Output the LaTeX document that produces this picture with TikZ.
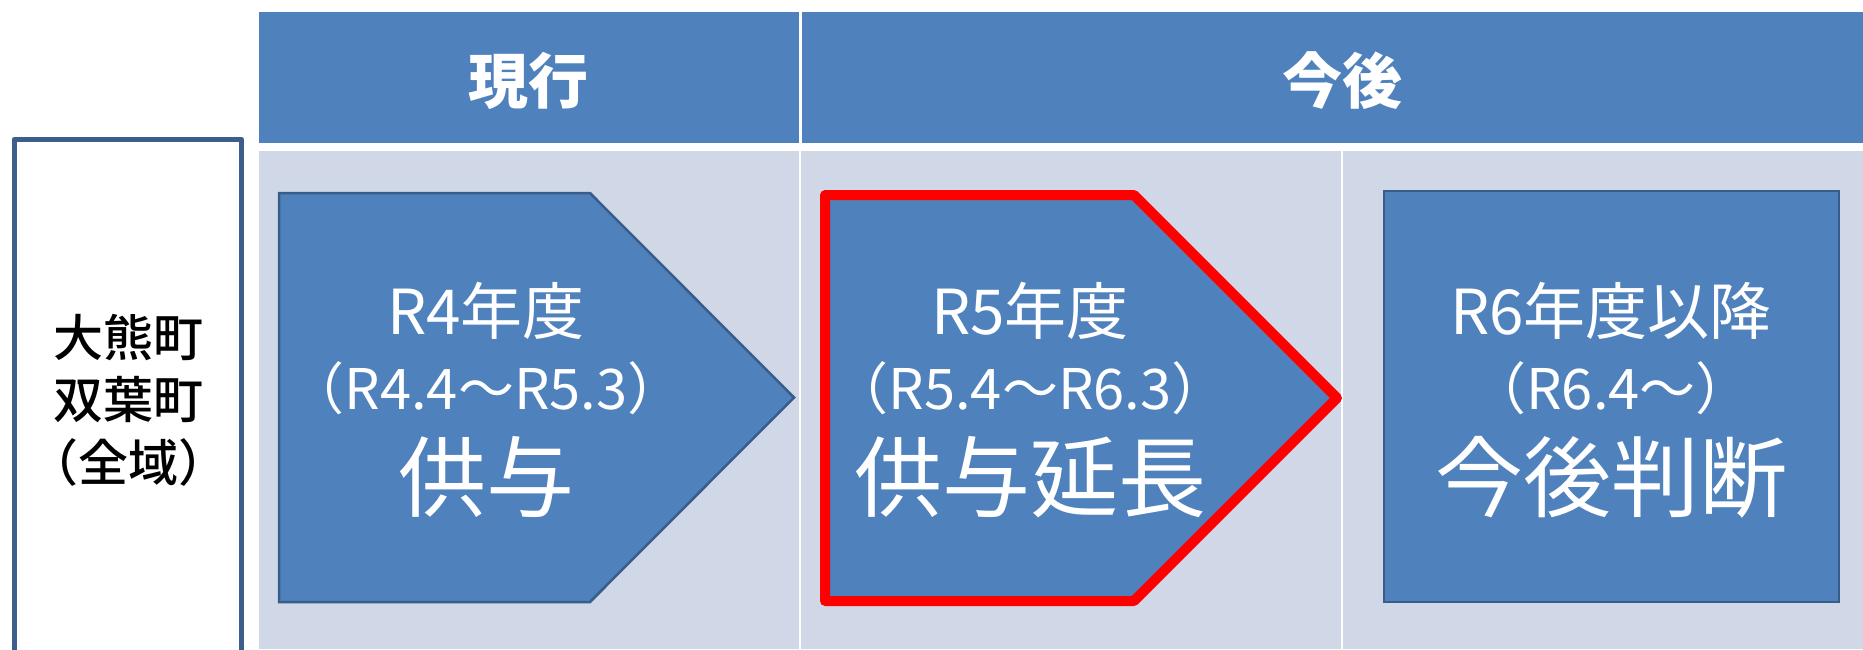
\documentclass[tikz,border=0pt]{standalone}
\usepackage{fontspec}
\setmainfont{Noto Sans CJK JP}
\newfontfamily\cjkmed{Noto Sans CJK JP Medium}
\definecolor{hdr}{HTML}{4F81BD}
\definecolor{bodybg}{HTML}{D0D8E8}
\definecolor{boxfill}{HTML}{4F81BD}
\definecolor{boxline}{HTML}{385D8A}
\definecolor{leftline}{HTML}{3B5E8C}
\definecolor{hl}{HTML}{FF0000}
\tikzset{
  lineA/.style={text=white, anchor=base, inner sep=0pt, font=\fontsize{62}{62}\selectfont},
  lineB/.style={text=white, anchor=base, inner sep=0pt, font=\fontsize{56}{56}\selectfont},
  lineC/.style={text=white, anchor=base, inner sep=0pt, font=\fontsize{88}{88}\selectfont},
  hdrtxt/.style={text=white, anchor=base, inner sep=0pt, font=\fontsize{60}{60}\selectfont\bfseries},
  lefttxt/.style={text=black, anchor=base, inner sep=0pt, font=\cjkmed\fontsize{50}{50}\selectfont},
  pentbox/.style={draw=boxline, fill=boxfill, line width=2.5pt, line join=miter},
  redbox/.style={draw=hl, fill=boxfill, line width=10pt, line join=round},
  divider/.style={draw=white, line width=2.5pt},
}
\begin{document}
\begin{tikzpicture}[x=1pt,y=-1pt]
\useasboundingbox (0,0) rectangle (1863,649);
\fill[white] (0,0) rectangle (1863,649);
% header band
\fill[hdr] (259,12) rectangle (1863,143);
\draw[divider, line width=3pt] (800,12) -- (800,143);
% body band
\fill[bodybg] (259,151) rectangle (1863,649);
\draw[divider] (800,151) -- (800,649);
\draw[divider] (1342,151) -- (1342,649);
% left label box
\draw[leftline, line width=5pt, line join=round] (14,660) -- (14,139.5) -- (241.5,139.5) -- (241.5,660);
% header texts
\node[hdrtxt] (h1) at (528,103) {現行};
\node[hdrtxt] (h2) at (1342,103) {今後};
% left texts
\node[lefttxt] (l1) at (128,356) {大熊町};
\node[lefttxt] (l2) at (128,418) {双葉町};
\node[lefttxt] (l3) at (128,481) {（全域）};
% box 1
\draw[pentbox] (279,193) -- (590,193) -- (794,397.5) -- (590,602) -- (279,602) -- cycle;
\node[lineA] (b1a) at (486,334) {R4年度};
\node[lineB] (b1b) at (486,409) {（R4.4～R5.3）};
\node[lineC] (b1c) at (486,510) {供与};
% box 2 (highlighted)
\draw[redbox] (825,195) -- (1134,195) -- (1337,398) -- (1134,601) -- (825,601) -- cycle;
\node[lineA] (b2a) at (1030,334) {R5年度};
\node[lineB] (b2b) at (1030,409) {（R5.4～R6.3）};
\node[lineC] (b2c) at (1030,510) {供与延長};
% box 3
\draw[pentbox] (1384,191) rectangle (1839,602);
\node[lineA] (b3a) at (1611,334) {R6年度以降};
\node[lineB] (b3b) at (1611,409) {（R6.4～）};
\node[lineC] (b3c) at (1611,510) {今後判断};
\end{tikzpicture}
\end{document}
